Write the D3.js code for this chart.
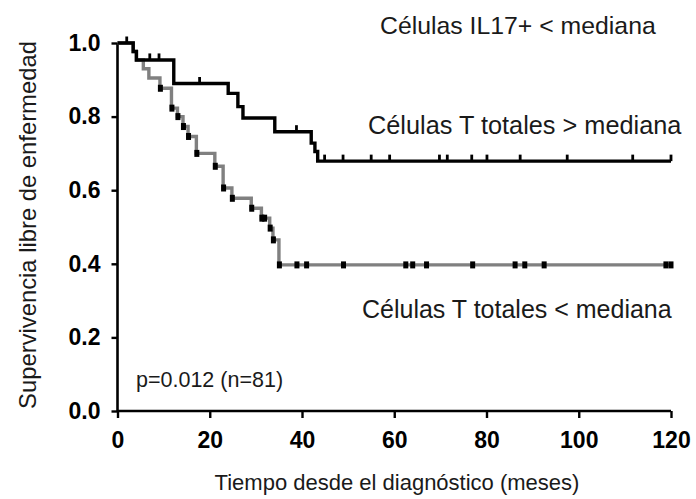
<!DOCTYPE html>
<html><head><meta charset="utf-8">
<script src="https://cdn.jsdelivr.net/npm/d3@7"></script>
<style>
body{margin:0;background:#fff;}
svg{display:block;font-family:"Liberation Sans",Arial,Helvetica,sans-serif;}
</style></head>
<body><svg id="c" width="696" height="499"></svg>
<script>
// ---- data ----
const xTicks = [0, 20, 40, 60, 80, 100, 120];
const yTicks = [0.0, 0.2, 0.4, 0.6, 0.8, 1.0];
// Células T totales > mediana (black)
const highTimes = [0, 3.4, 4.1, 12.2, 24.0, 26.1, 27.2, 34.1, 42.0, 42.8, 43.4];
const highSurv  = [1.0, 0.977, 0.954, 0.89, 0.863, 0.827, 0.796, 0.759, 0.728, 0.705, 0.679];
const highCensor = [2, 7.0, 9.0, 17.8, 38.8, 44.9, 48.9, 55, 59, 69.8, 71.5, 76.8, 80.1, 87.3, 97.5, 111.7, 120];
// Células T totales < mediana (grey)
const lowTimes = [0, 3.4, 4.1, 5.6, 6.8, 9.2, 11.7, 13.0, 14.2, 15.3, 17.1, 21.1, 22.9, 24.8, 29.0, 31.2, 33.0, 33.7, 35.0];
const lowSurv  = [1.0, 0.977, 0.954, 0.93, 0.905, 0.877, 0.823, 0.80, 0.773, 0.746, 0.70, 0.665, 0.606, 0.578, 0.551, 0.524, 0.497, 0.465, 0.397];
const lowCensor = [9.3, 11.8, 13.1, 14.3, 15.4, 17.2, 21.2, 23.0, 24.9, 29.1, 31.3, 31.9, 33.1, 33.8, 35.1, 38.9, 41.0, 49.0, 62.5, 64.0, 67.0, 77.0, 86.2, 88.3, 92.5, 118.9, 120];
const maxTime = 120;

const svg = d3.select("#c");
const x = d3.scaleLinear().domain([0, 120]).range([117.5, 671]);
const y = d3.scaleLinear().domain([0, 1]).range([411, 43]);

function stepPoints(times, surv) {
  const pts = [];
  for (let i = 0; i < times.length; i++) {
    if (i > 0) pts.push([times[i], surv[i - 1]]);
    pts.push([times[i], surv[i]]);
  }
  pts.push([maxTime, surv[surv.length - 1]]);
  return pts;
}
function survAt(times, surv, t) {
  let s = surv[0];
  for (let i = 0; i < times.length; i++) if (times[i] <= t) s = surv[i];
  return s;
}
const line = d3.line().x(d => x(d[0])).y(d => y(d[1]));

// axes
const yAxis = d3.axisLeft(y).tickValues(yTicks).tickFormat(d3.format(".1f")).tickSize(6).tickPadding(11);
const xAxis = d3.axisBottom(x).tickValues(xTicks).tickFormat(d3.format("d")).tickSize(7).tickPadding(14);
const gy = svg.append("g").attr("transform", "translate(117.5,0)").call(yAxis);
const gx = svg.append("g").attr("transform", "translate(0,411)").call(xAxis);
[gx, gy].forEach(g => {
  g.select(".domain").attr("stroke", "#000").attr("stroke-width", 2.6);
  g.selectAll(".tick line").attr("stroke", "#000").attr("stroke-width", 2.4);
  g.selectAll(".tick text").attr("fill", "#000").style("font-size", "23px").style("font-weight", "bold")
    .style("font-family", "'Liberation Sans', Arial, sans-serif");
});
gy.select(".domain").attr("d", "M0,411V43");
gx.select(".domain").attr("d", "M117.5,0H671");

// grey curve
svg.append("path").attr("d", line(stepPoints(lowTimes, lowSurv)))
  .attr("fill", "none").attr("stroke", "#808080").attr("stroke-width", 3.4);
svg.append("g").selectAll("rect").data(lowCensor).join("rect")
  .attr("x", d => x(d) - 2.5).attr("y", d => y(survAt(lowTimes, lowSurv, d)) - 3.5)
  .attr("width", 5).attr("height", 7).attr("fill", "#000");

// black curve
svg.append("path").attr("d", line(stepPoints(highTimes, highSurv)))
  .attr("fill", "none").attr("stroke", "#000").attr("stroke-width", 3.4);
svg.append("g").selectAll("line").data(highCensor).join("line")
  .attr("x1", d => x(d)).attr("x2", d => x(d))
  .attr("y1", d => y(survAt(highTimes, highSurv, d))).attr("y2", d => y(survAt(highTimes, highSurv, d)) - 6.5)
  .attr("stroke", "#000").attr("stroke-width", 2.8);

// texts
const t = (txt, xx, yy, size, anchor) => svg.append("text").attr("x", xx).attr("y", yy)
  .attr("text-anchor", anchor || "start").style("font-size", size + "px").attr("fill", "#1a1a1a").text(txt);
t("Células IL17+ < mediana", 380, 34, 24.8);
t("Células T totales > mediana", 368, 134, 25.3);
t("Células T totales < mediana", 362, 318, 25);
t("p=0.012 (n=81)", 136, 387, 21.5);
t("Tiempo desde el diagnóstico (meses)", 397, 490, 22, "middle");
svg.append("text").attr("transform", "translate(36,225) rotate(-90)").attr("text-anchor", "middle")
  .style("font-size", "23.8px").attr("fill", "#1a1a1a").text("Supervivencia libre de enfermedad");
</script></body></html>
